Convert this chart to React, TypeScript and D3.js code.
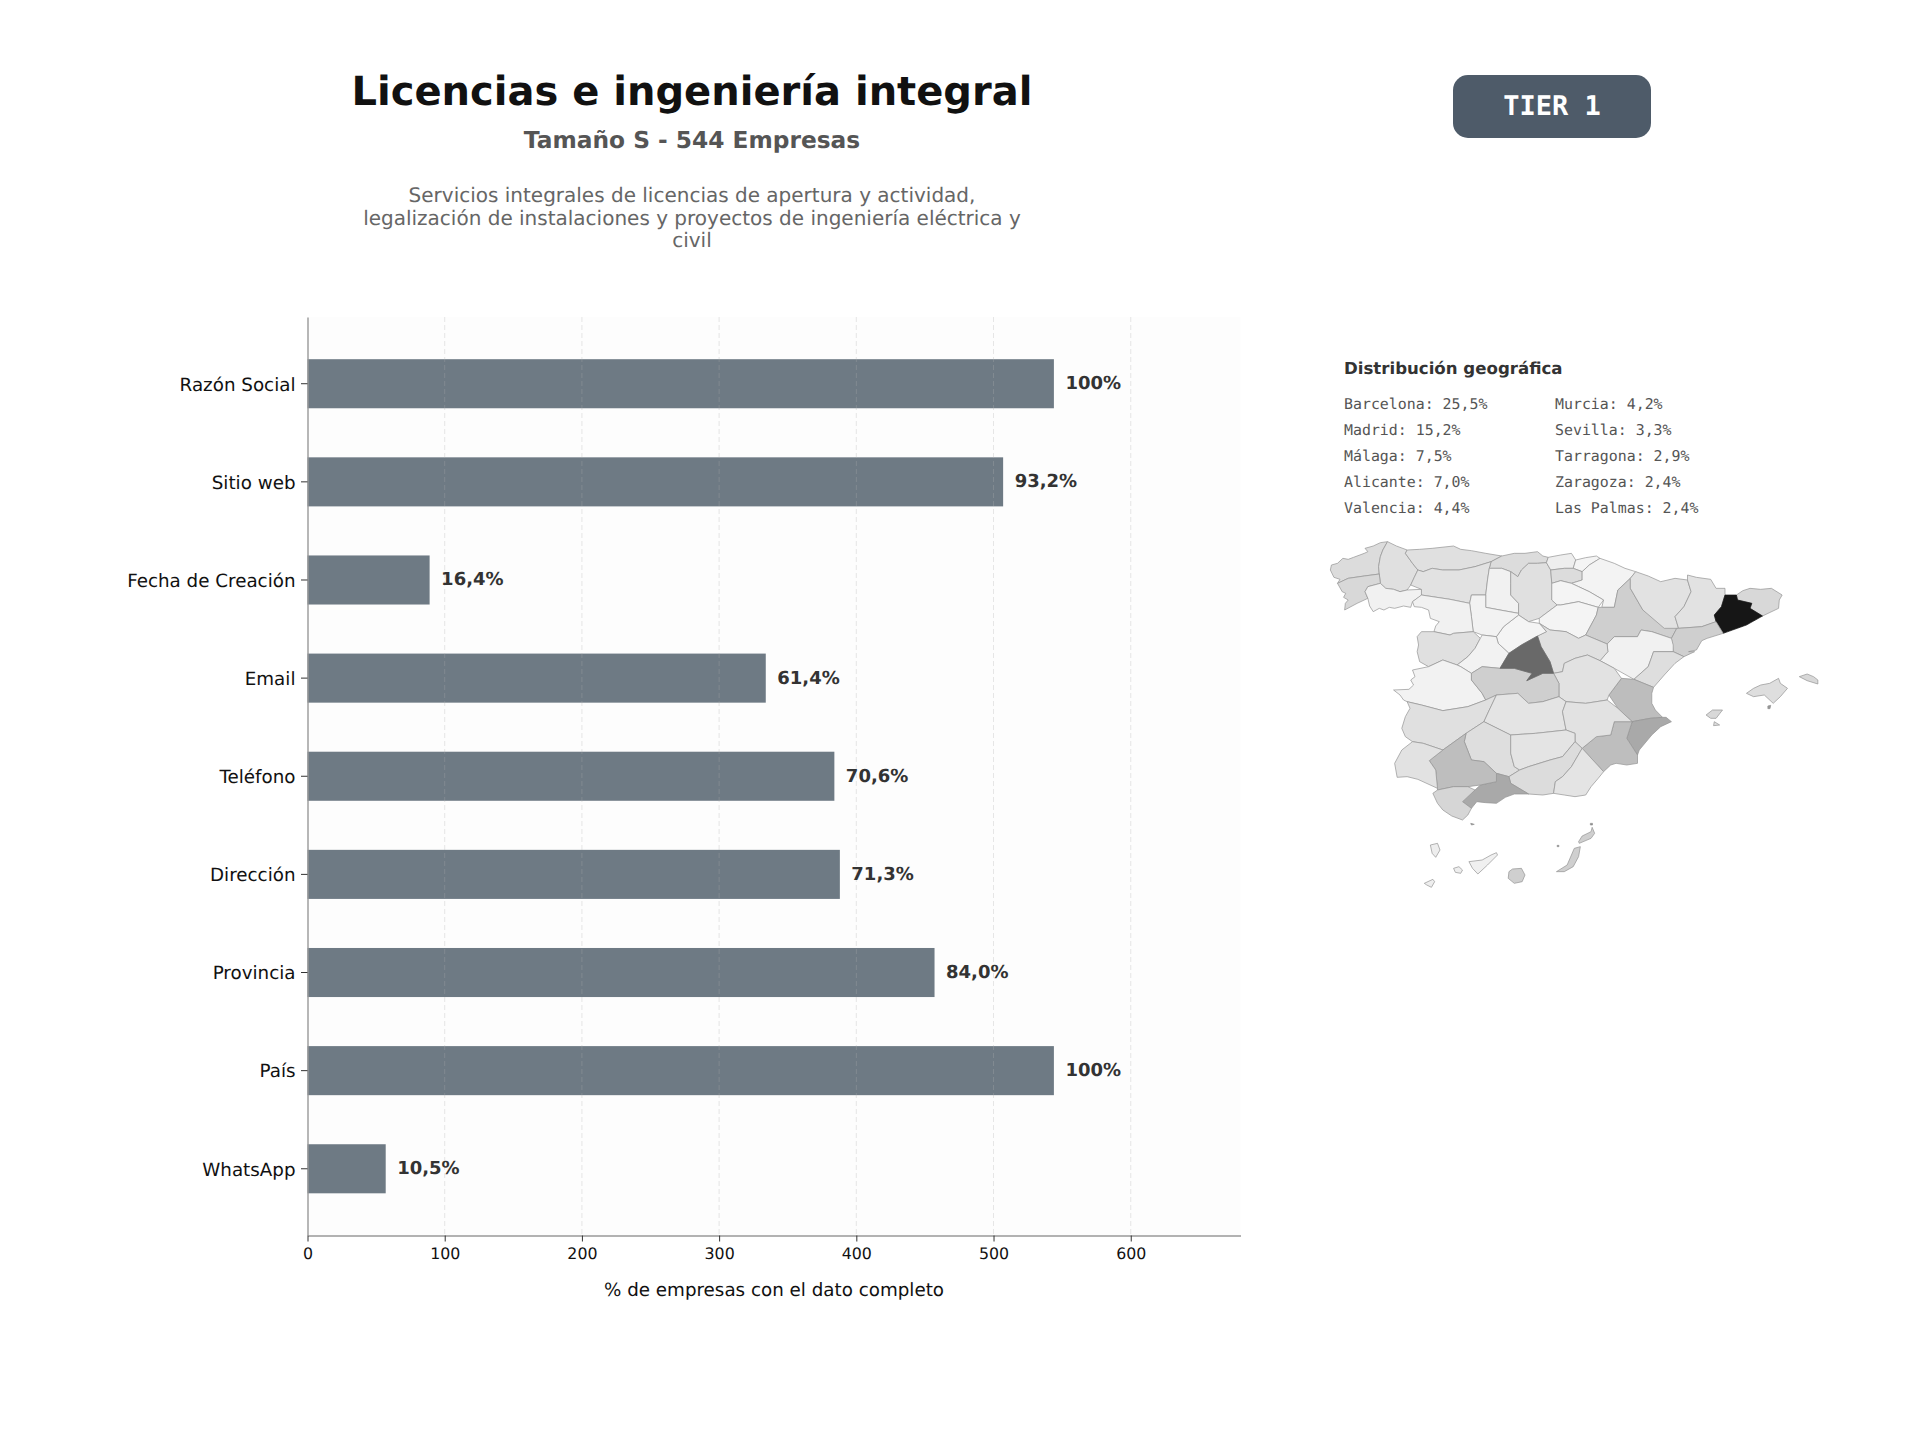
import { useRef, useEffect } from 'react';
import * as d3 from 'd3';

const WIDTH = 1920;
const HEIGHT = 1440;

const FIELD_NAMES = ['Razón Social', 'Sitio web', 'Fecha de Creación', 'Email', 'Teléfono', 'Dirección', 'Provincia', 'País', 'WhatsApp'];
const FIELD_COUNTS = [544, 507, 89, 334, 384, 388, 457, 544, 57];
const FIELD_LABELS = ['100%', '93,2%', '16,4%', '61,4%', '70,6%', '71,3%', '84,0%', '100%', '10,5%'];
const X_TICKS = [0, 100, 200, 300, 400, 500, 600];

const DESCRIPTION = [
  'Servicios integrales de licencias de apertura y actividad,',
  'legalización de instalaciones y proyectos de ingeniería eléctrica y',
  'civil',
];

const GEO_LEFT = ['Barcelona: 25,5%', 'Madrid: 15,2%', 'Málaga: 7,5%', 'Alicante: 7,0%', 'Valencia: 4,4%'];
const GEO_RIGHT = ['Murcia: 4,2%', 'Sevilla: 3,3%', 'Tarragona: 2,9%', 'Zaragoza: 2,4%', 'Las Palmas: 2,4%'];

type Region = { name: string; grey: number; shape: number[][] };

// outlines, in trace units (see mapX / mapY)
const MAINLAND: Region[] = [
  { name: 'A Coruña', grey: 220, shape: [[85,150],[88,135],[105,130],[120,115],[135,118],[150,112],[180,100],[190,95],[182,85],[205,78],[225,68],[245,65],[232,90],[225,110],[220,140],[222,162],[180,168],[135,175],[105,190],[112,178],[95,172]] },
  { name: 'Lugo', grey: 224, shape: [[245,65],[270,78],[300,90],[295,100],[315,130],[330,150],[320,172],[310,195],[300,210],[280,215],[262,208],[240,205],[225,190],[222,162],[220,140],[225,110],[232,90]] },
  { name: 'Pontevedra', grey: 216, shape: [[105,190],[135,175],[180,168],[222,162],[225,190],[190,200],[182,215],[190,235],[160,250],[125,270],[127,250],[135,240],[122,232],[128,220],[118,215]] },
  { name: 'Ourense', grey: 241, shape: [[190,200],[225,190],[240,205],[262,208],[280,215],[300,210],[340,208],[342,225],[315,245],[310,262],[290,258],[265,265],[250,262],[235,270],[222,265],[205,275],[195,258],[190,235],[182,215]] },
  { name: 'Asturias', grey: 224, shape: [[300,90],[335,88],[370,85],[430,78],[450,88],[480,92],[520,100],[565,108],[535,125],[490,140],[445,150],[400,150],[370,145],[345,155],[330,150],[315,130],[295,100]] },
  { name: 'Cantabria', grey: 220, shape: [[565,108],[600,100],[630,100],[665,95],[680,108],[695,112],[690,128],[665,130],[640,130],[620,150],[610,170],[590,155],[565,145],[530,145],[535,125]] },
  { name: 'León', grey: 226, shape: [[345,155],[370,145],[400,150],[445,150],[490,140],[535,125],[530,145],[525,180],[520,225],[480,225],[475,250],[420,238],[340,225],[340,208],[310,195],[320,172],[330,150]] },
  { name: 'Palencia', grey: 241, shape: [[530,145],[565,145],[590,155],[590,190],[590,225],[612,250],[612,280],[560,270],[520,262],[520,225],[525,180]] },
  { name: 'Burgos', grey: 224, shape: [[590,155],[610,170],[620,150],[640,130],[665,130],[690,128],[702,150],[705,190],[705,240],[720,255],[670,295],[640,305],[612,285],[612,250],[590,225],[590,190]] },
  { name: 'Bizkaia', grey: 238, shape: [[695,112],[730,105],[760,100],[772,120],[765,145],[740,145],[702,150],[690,128]] },
  { name: 'Gipuzkoa', grey: 244, shape: [[772,120],[800,113],[830,108],[840,115],[810,135],[790,155],[765,145]] },
  { name: 'Álava', grey: 220, shape: [[702,150],[740,145],[765,145],[790,155],[790,180],[760,190],[730,182],[705,190]] },
  { name: 'Navarra', grey: 243, shape: [[840,115],[880,130],[910,145],[940,155],[925,175],[890,210],[880,262],[845,262],[850,240],[810,215],[780,200],[760,190],[790,180],[790,155],[810,135]] },
  { name: 'La Rioja', grey: 244, shape: [[705,190],[730,182],[760,190],[780,200],[810,215],[850,240],[835,262],[780,245],[730,255],[720,255],[705,240]] },
  { name: 'Soria', grey: 244, shape: [[720,255],[730,255],[780,245],[835,262],[830,285],[800,345],[780,355],[745,335],[700,330],[670,310],[670,295]] },
  { name: 'Zaragoza', grey: 207, shape: [[880,262],[890,210],[925,175],[925,205],[960,270],[1000,300],[1055,325],[1040,355],[985,335],[955,330],[945,350],[880,350],[860,372],[800,345],[830,285],[835,262],[845,262]] },
  { name: 'Huesca', grey: 226, shape: [[925,175],[940,155],[975,168],[1010,185],[1050,175],[1085,180],[1095,215],[1075,260],[1050,290],[1060,325],[1020,325],[960,270],[925,205]] },
  { name: 'Lleida', grey: 226, shape: [[1085,165],[1110,172],[1150,178],[1165,205],[1190,205],[1190,225],[1180,260],[1160,285],[1165,305],[1125,320],[1060,325],[1050,290],[1075,260],[1095,215],[1085,180]] },
  { name: 'Girona', grey: 216, shape: [[1222,225],[1240,212],[1260,205],[1290,208],[1320,205],[1350,225],[1342,240],[1340,265],[1295,288],[1260,265],[1265,250],[1225,240]] },
  { name: 'Barcelona', grey: 20, shape: [[1190,225],[1222,225],[1225,240],[1265,250],[1260,265],[1295,288],[1250,315],[1185,340],[1165,305],[1160,285],[1180,260]] },
  { name: 'Tarragona', grey: 207, shape: [[1165,305],[1185,340],[1140,355],[1125,362],[1110,390],[1088,395],[1105,395],[1075,410],[1045,395],[1040,355],[1055,325],[1060,325],[1125,320]] },
  { name: 'Teruel', grey: 241, shape: [[860,372],[880,350],[945,350],[955,330],[985,335],[1040,355],[1045,375],[1045,395],[990,395],[975,440],[935,478],[880,445],[840,422],[862,395]] },
  { name: 'Castellón', grey: 222, shape: [[990,395],[1045,395],[1075,410],[1050,430],[1020,465],[990,502],[935,478],[975,440]] },
  { name: 'Valencia', grey: 189, shape: [[900,475],[935,478],[990,502],[985,520],[985,550],[995,570],[1015,592],[980,595],[930,605],[890,565],[865,525]] },
  { name: 'Alicante', grey: 169, shape: [[930,605],[980,595],[1015,592],[1025,592],[1040,605],[1010,620],[985,645],[950,690],[945,705],[915,655]] },
  { name: 'Murcia', grey: 190, shape: [[880,605],[930,605],[915,655],[945,705],[945,730],[915,735],[885,730],[870,735],[850,755],[820,720],[790,685],[830,650],[870,645]] },
  { name: 'Guadalajara', grey: 224, shape: [[670,310],[700,330],[745,335],[780,355],[800,345],[860,372],[862,395],[840,422],[805,405],[770,415],[740,430],[735,455],[710,460],[700,425],[675,380],[665,348],[690,335]] },
  { name: 'Cuenca', grey: 226, shape: [[740,430],[770,415],[805,405],[840,422],[880,445],[900,475],[865,525],[860,540],[800,550],[745,545],[725,530],[725,490],[710,460],[735,455]] },
  { name: 'Segovia', grey: 244, shape: [[550,350],[570,320],[612,285],[640,305],[670,310],[690,335],[665,348],[620,375],[585,400],[555,370]] },
  { name: 'Valladolid', grey: 242, shape: [[480,225],[520,225],[520,262],[560,270],[612,280],[612,285],[570,320],[550,350],[510,345],[485,335],[480,290],[475,250]] },
  { name: 'Zamora', grey: 241, shape: [[315,245],[340,225],[420,238],[475,250],[480,290],[485,335],[430,340],[420,345],[375,335],[380,318],[390,305],[365,295],[360,270],[340,262],[320,260]] },
  { name: 'Salamanca', grey: 224, shape: [[340,335],[375,335],[420,345],[430,340],[485,335],[505,355],[490,385],[470,410],[440,435],[400,420],[360,440],[335,425],[328,395],[332,375],[328,350]] },
  { name: 'Ávila', grey: 242, shape: [[505,355],[510,345],[550,350],[555,370],[585,400],[560,445],[510,440],[480,460],[450,440],[440,435],[470,410],[490,385]] },
  { name: 'Cáceres', grey: 242, shape: [[315,450],[360,440],[400,420],[440,435],[450,440],[480,460],[480,480],[510,520],[520,540],[470,560],[400,572],[340,555],[300,545],[290,540],[280,525],[262,510],[305,508],[318,495],[310,480],[322,470]] },
  { name: 'Toledo', grey: 207, shape: [[480,460],[510,440],[560,445],[600,445],[650,460],[635,482],[680,460],[710,460],[725,490],[725,530],[680,545],[640,550],[610,520],[550,525],[520,540],[510,520],[480,480]] },
  { name: 'Badajoz', grey: 224, shape: [[300,545],[340,555],[400,572],[470,560],[520,540],[550,525],[530,570],[515,605],[465,640],[400,690],[345,670],[315,665],[295,650],[285,625],[295,590],[308,565]] },
  { name: 'Ciudad Real', grey: 228, shape: [[550,525],[610,520],[640,550],[680,545],[725,530],[745,545],[735,575],[745,630],[660,640],[590,645],[515,605],[530,570]] },
  { name: 'Albacete', grey: 226, shape: [[745,545],[800,550],[860,540],[890,565],[930,605],[880,605],[870,645],[830,650],[790,685],[770,665],[770,640],[745,630],[735,575]] },
  { name: 'Córdoba', grey: 222, shape: [[515,605],[590,645],[590,700],[600,740],[615,750],[585,770],[550,760],[515,725],[480,720],[460,665],[465,640]] },
  { name: 'Jaén', grey: 228, shape: [[590,645],[660,640],[745,630],[770,640],[770,665],[735,710],[700,720],[640,740],[615,750],[600,740],[590,700]] },
  { name: 'Granada', grey: 220, shape: [[615,750],[640,740],[700,720],[735,710],[770,665],[790,685],[760,740],[735,770],[715,785],[710,820],[680,825],[640,822],[590,790],[585,770]] },
  { name: 'Almería', grey: 228, shape: [[790,685],[820,720],[850,755],[835,775],[815,800],[800,825],[770,830],[740,825],[710,820],[715,785],[735,770],[760,740]] },
  { name: 'Málaga', grey: 169, shape: [[585,770],[590,790],[640,822],[600,822],[575,832],[550,850],[520,848],[495,845],[480,865],[455,845],[490,810],[505,795],[550,785],[550,760]] },
  { name: 'Sevilla', grey: 190, shape: [[400,690],[465,640],[460,665],[480,720],[515,725],[550,760],[550,785],[505,795],[470,800],[430,800],[385,810],[380,750],[362,722]] },
  { name: 'Huelva', grey: 226, shape: [[315,665],[345,670],[400,690],[362,722],[380,750],[385,805],[330,778],[300,770],[272,772],[265,730],[285,690]] },
  { name: 'Cádiz', grey: 214, shape: [[385,810],[430,800],[470,800],[490,810],[455,845],[480,865],[470,885],[455,900],[425,888],[400,870],[385,850],[372,820]] },
  { name: 'Madrid', grey: 105, shape: [[665,348],[675,380],[700,425],[710,460],[680,460],[635,482],[650,460],[600,445],[560,445],[585,400],[620,375]] },
];

const ISLANDS: Region[] = [
  { name: 'Mallorca', grey: 222, shape: [[1250,520],[1270,505],[1290,495],[1315,490],[1340,475],[1345,490],[1365,505],[1345,530],[1325,550],[1300,525],[1270,530]] },
  { name: 'Menorca', grey: 216, shape: [[1398,470],[1420,462],[1438,470],[1450,480],[1450,492],[1420,482]] },
  { name: 'Ibiza', grey: 216, shape: [[1137,585],[1155,570],[1183,570],[1165,595],[1150,595]] },
  { name: 'Formentera', grey: 220, shape: [[1160,605],[1175,615],[1158,617]] },
  { name: 'Cabrera', grey: 150, shape: [[1310,558],[1318,556],[1316,566],[1310,566]] },
  { name: 'La Palma', grey: 238, shape: [[365,975],[385,970],[392,990],[380,1012],[370,1000]] },
  { name: 'Tenerife', grey: 240, shape: [[473,1025],[510,1020],[535,1005],[550,998],[553,1005],[525,1035],[498,1062],[483,1045]] },
  { name: 'La Gomera', grey: 238, shape: [[430,1045],[445,1040],[455,1050],[450,1060],[435,1057]] },
  { name: 'El Hierro', grey: 238, shape: [[348,1090],[372,1078],[377,1085],[368,1102],[355,1095]] },
  { name: 'Gran Canaria', grey: 207, shape: [[595,1047],[620,1045],[630,1065],[622,1085],[600,1090],[583,1075],[585,1055]] },
  { name: 'Fuerteventura', grey: 207, shape: [[748,1035],[768,985],[785,980],[780,1010],[765,1040],[740,1055],[718,1055]] },
  { name: 'Lanzarote', grey: 207, shape: [[780,965],[790,948],[815,935],[818,922],[825,940],[815,955],[782,970]] },
  { name: 'Alegranza', grey: 140, shape: [[813,910],[819,910],[819,915],[813,915]] },
  { name: 'Graciosa', grey: 150, shape: [[720,976],[725,976],[725,980],[720,980]] },
  { name: 'Alborán', grey: 140, shape: [[478,910],[488,913],[480,915]] },
];

export default function App() {
  const svgRef = useRef<SVGSVGElement>(null);

  useEffect(() => {
    const svg = d3.select(svgRef.current);
    svg.selectAll('*').remove();

    const font = '"DejaVu Sans"';
    const mono = '"DejaVu Sans Mono"';

    // Header
    const centerX = 692;
    svg.append('text').attr('x', centerX).attr('y', 105).attr('text-anchor', 'middle')
      .attr('font-family', font).attr('font-weight', 700).attr('font-size', 40).attr('fill', '#111')
      .text('Licencias e ingeniería integral');
    svg.append('text').attr('x', centerX).attr('y', 148).attr('text-anchor', 'middle')
      .attr('font-family', font).attr('font-weight', 700).attr('font-size', 23.3).attr('fill', '#555')
      .text('Tamaño S - 544 Empresas');
    DESCRIPTION.forEach((line, i) => {
      svg.append('text').attr('x', centerX).attr('y', 202 + i * 22.6).attr('text-anchor', 'middle')
        .attr('font-family', font).attr('font-size', 20).attr('fill', '#666')
        .text(line);
    });

    // Tier badge
    svg.append('rect').attr('x', 1453).attr('y', 75).attr('width', 198).attr('height', 63).attr('rx', 15)
      .attr('fill', '#4e5b69');
    svg.append('text').attr('x', 1552).attr('y', 115).attr('text-anchor', 'middle')
      .attr('font-family', mono).attr('font-weight', 700).attr('font-size', 27).attr('fill', '#fff')
      .text('TIER 1');

    // Bars
    const margin = { left: 307.5, right: 1240.5, top: 317, bottom: 1235.5 };
    const x = d3.scaleLinear().domain([0, 680]).range([margin.left, margin.right]);
    const y = d3.scaleBand<string>().domain(FIELD_NAMES).range([margin.top, margin.bottom])
      .paddingInner(0.5).paddingOuter(0.43);

    svg.append('rect').attr('x', margin.left).attr('y', margin.top)
      .attr('width', margin.right - margin.left).attr('height', margin.bottom - margin.top)
      .attr('fill', '#fdfdfd');

    svg.append('g').selectAll('rect').data(FIELD_NAMES).join('rect')
      .attr('x', x(0))
      .attr('y', d => y(d)!)
      .attr('width', (_d, i) => x(FIELD_COUNTS[i]) - x(0))
      .attr('height', y.bandwidth())
      .attr('fill', '#6e7a84');

    svg.append('g').selectAll('line').data(X_TICKS.slice(1)).join('line')
      .attr('x1', d => x(d)).attr('x2', d => x(d))
      .attr('y1', margin.top).attr('y2', margin.bottom)
      .attr('stroke', '#b0b0b0').attr('stroke-opacity', 0.3).attr('stroke-width', 1)
      .attr('stroke-dasharray', '5,3');

    svg.append('g').selectAll('text').data(FIELD_NAMES).join('text')
      .attr('x', (_d, i) => x(FIELD_COUNTS[i]) + 11.5)
      .attr('y', d => y(d)! + y.bandwidth() / 2 + 5.5)
      .attr('font-family', font).attr('font-weight', 700).attr('font-size', 18).attr('fill', '#333')
      .text((_d, i) => FIELD_LABELS[i]);

    const axisX = svg.append('g').attr('transform', `translate(0,${margin.bottom})`)
      .call(d3.axisBottom(x).tickValues(X_TICKS).tickSize(6).tickSizeOuter(0).tickPadding(6).tickFormat(d3.format('d')));
    const axisY = svg.append('g').attr('transform', `translate(${margin.left},0)`)
      .call(d3.axisLeft(y).tickSize(6.5).tickSizeOuter(0).tickPadding(5.5));
    [axisX, axisY].forEach(axis => {
      axis.select('.domain').attr('stroke', '#999').attr('stroke-width', 1.4);
      axis.selectAll('.tick line').attr('stroke', '#333').attr('stroke-width', 1);
      axis.selectAll('.tick text').attr('font-family', font).attr('fill', '#111');
    });
    axisX.selectAll('.tick text').attr('font-size', 15.8);
    axisY.selectAll('.tick text').attr('font-size', 18.3).attr('dy', '0.37em');

    svg.append('text').attr('x', 774).attr('y', 1296).attr('text-anchor', 'middle')
      .attr('font-family', font).attr('font-size', 18.3).attr('fill', '#111')
      .text('% de empresas con el dato completo');

    // Geographic list
    svg.append('text').attr('x', 1344).attr('y', 374)
      .attr('font-family', font).attr('font-weight', 700).attr('font-size', 16.6).attr('fill', '#333')
      .text('Distribución geográfica');
    [GEO_LEFT, GEO_RIGHT].forEach((rows, col) => {
      svg.append('g').selectAll('text').data(rows).join('text')
        .attr('x', col === 0 ? 1344 : 1555)
        .attr('y', (_d, i) => 409 + i * 26)
        .attr('font-family', mono).attr('font-size', 14.9).attr('fill', '#555')
        .text(d => d);
    });

    // Map
    const mapX = d3.scaleLinear().domain([0, 1568]).range([1300, 1860]);
    const mapY = d3.scaleLinear().domain([0, 1200]).range([520, 920]);
    const outline = d3.line<number[]>().x(d => mapX(d[0])).y(d => mapY(d[1])).curve(d3.curveLinearClosed);

    const defs = svg.append('defs');
    defs.append('filter').attr('id', 'soft').append('feGaussianBlur').attr('stdDeviation', 0.45);

    svg.append('g').attr('filter', 'url(#soft)')
      .selectAll('path').data([...MAINLAND, ...ISLANDS]).join('path')
      .attr('d', d => outline(d.shape))
      .attr('fill', d => d3.rgb(d.grey, d.grey, d.grey).formatHex())
      .attr('stroke', d => (d.grey < 120 ? d3.rgb(d.grey, d.grey, d.grey).formatHex() : '#939393'))
      .attr('stroke-width', 0.7)
      .attr('stroke-linejoin', 'round');
  }, []);

  return (
    <svg ref={svgRef} width={WIDTH} height={HEIGHT} style={{ position: 'absolute', left: 0, top: 0, background: '#fff', textRendering: 'geometricPrecision' }} />
  );
}
